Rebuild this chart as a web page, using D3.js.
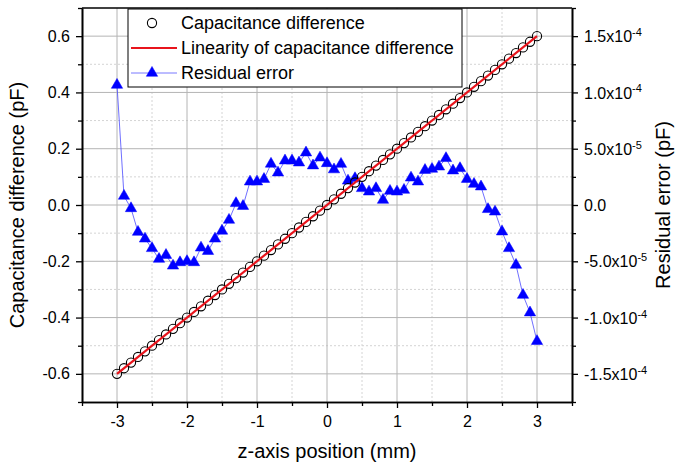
<!DOCTYPE html>
<html><head><meta charset="utf-8">
<script src="https://cdn.jsdelivr.net/npm/d3@7"></script>
<style>
body{margin:0;background:#fff}
svg text{font-family:"Liberation Sans",Arial,sans-serif;fill:#000}
</style>
</head><body>
<svg id="chart" width="683" height="468"></svg>
<script>
// ---------------- data ----------------
const positions = [-3.0,-2.9,-2.8,-2.7,-2.6,-2.5,-2.4,-2.3,-2.2,-2.1,-2.0,-1.9,-1.8,-1.7,-1.6,-1.5,-1.4,-1.3,-1.2,-1.1,
  -1.0,-0.9,-0.8,-0.7,-0.6,-0.5,-0.4,-0.3,-0.2,-0.1,0.0,0.1,0.2,0.3,0.4,0.5,0.6,0.7,0.8,0.9,
  1.0,1.1,1.2,1.3,1.4,1.5,1.6,1.7,1.8,1.9,2.0,2.1,2.2,2.3,2.4,2.5,2.6,2.7,2.8,2.9,3.0];
const capacitance = [-0.600,-0.580,-0.560,-0.540,-0.520,-0.500,-0.480,-0.460,-0.440,-0.420,-0.400,-0.380,-0.360,-0.340,-0.320,-0.300,-0.280,-0.260,-0.240,-0.220,
  -0.200,-0.180,-0.160,-0.140,-0.120,-0.100,-0.080,-0.060,-0.040,-0.020,0.000,0.020,0.040,0.060,0.080,0.100,0.120,0.140,0.160,0.180,
  0.200,0.220,0.240,0.260,0.280,0.300,0.320,0.340,0.360,0.380,0.400,0.420,0.440,0.460,0.480,0.500,0.520,0.540,0.560,0.580,0.600];
const residual = [10.66e-5,0.80e-5,-0.30e-5,-2.40e-5,-3.00e-5,-3.85e-5,-4.80e-5,-4.45e-5,-5.40e-5,-5.10e-5,
  -5.00e-5,-5.10e-5,-3.80e-5,-4.10e-5,-3.00e-5,-2.30e-5,-1.33e-5,0.15e-5,-0.10e-5,2.07e-5,
  2.07e-5,2.30e-5,3.65e-5,2.87e-5,3.94e-5,3.94e-5,3.76e-5,4.65e-5,3.50e-5,4.20e-5,
  3.70e-5,3.15e-5,3.64e-5,2.15e-5,2.37e-5,1.48e-5,1.18e-5,1.48e-5,0.44e-5,1.24e-5,
  1.18e-5,1.33e-5,2.42e-5,2.07e-5,3.10e-5,3.20e-5,3.40e-5,4.15e-5,3.05e-5,3.26e-5,
  2.30e-5,1.86e-5,1.63e-5,-0.38e-5,-0.60e-5,-2.37e-5,-3.85e-5,-5.33e-5,-8.00e-5,-9.56e-5,-12.10e-5];
const fitSlope = 0.2;
const fitIntercept = 0.0;
const xTicks = [-3,-2,-1,0,1,2,3];
const xTickLabels = ["-3","-2","-1","0","1","2","3"];
const xMinorTicks = [-3.5,-2.5,-1.5,-0.5,0.5,1.5,2.5,3.5];
const leftTicks = [-0.6,-0.4,-0.2,0,0.2,0.4,0.6];
const leftTickLabels = ["-0.6","-0.4","-0.2","0.0","0.2","0.4","0.6"];
const leftMinorTicks = [-0.7,-0.5,-0.3,-0.1,0.1,0.3,0.5,0.7];
const rightTicks = [-1.5e-4,-1.0e-4,-5.0e-5,0,5.0e-5,1.0e-4,1.5e-4];
const rightTickMantissa = ["-1.5","-1.0","-5.0","0.0","5.0","1.0","1.5"];
const rightTickExponent = ["-4","-4","-5","","-5","-4","-4"];
const rightMinorTicks = [-1.75e-4,-1.25e-4,-7.5e-5,-2.5e-5,2.5e-5,7.5e-5,1.25e-4,1.75e-4];
const legendLabels = ["Capacitance difference","Linearity of capacitance difference","Residual error"];
const xTitle = "z-axis position (mm)";
const yLeftTitle = "Capacitance difference (pF)";
const yRightTitle = "Residual error (pF)";

// ---------------- layout ----------------
const L = 82, R = 572, T = 8, B = 402;
const svg = d3.select("#chart");
const x = d3.scaleLinear().domain([-3.5,3.5]).range([L,R]);
const yL = d3.scaleLinear().domain([-0.7,0.7]).range([B,T]);
const yR = d3.scaleLinear().domain([-1.75e-4,1.75e-4]).range([B,T]);

// grid
const grid = svg.append("g");
grid.selectAll(".gxm").data(xMinorTicks.filter(v=>v>-3.5&&v<3.5)).enter().append("line")
  .attr("x1",d=>x(d)).attr("x2",d=>x(d)).attr("y1",T).attr("y2",B)
  .attr("stroke","#d4d4d4").attr("stroke-width",1).attr("stroke-dasharray","2,2");
grid.selectAll(".gym").data(leftMinorTicks.filter(v=>v>-0.7&&v<0.7)).enter().append("line")
  .attr("y1",d=>yL(d)).attr("y2",d=>yL(d)).attr("x1",L).attr("x2",R)
  .attr("stroke","#d4d4d4").attr("stroke-width",1).attr("stroke-dasharray","2,2");
grid.selectAll(".gx").data(xTicks).enter().append("line")
  .attr("x1",d=>x(d)).attr("x2",d=>x(d)).attr("y1",T).attr("y2",B)
  .attr("stroke","#b4b4b4").attr("stroke-width",1);
grid.selectAll(".gy").data(leftTicks).enter().append("line")
  .attr("y1",d=>yL(d)).attr("y2",d=>yL(d)).attr("x1",L).attr("x2",R)
  .attr("stroke","#b4b4b4").attr("stroke-width",1);

// top border
svg.append("line").attr("x1",L).attr("x2",R).attr("y1",T).attr("y2",T)
  .attr("stroke","#000").attr("stroke-width",1.5);

// axes
function styleAxis(g){
  g.selectAll("path.domain").attr("stroke","#000").attr("stroke-width",1.6);
  g.selectAll(".tick line").attr("stroke","#000").attr("stroke-width",1.3);
}
const gxMinor = svg.append("g").attr("transform",`translate(0,${B})`)
  .call(d3.axisBottom(x).tickValues(xMinorTicks).tickSize(4).tickSizeOuter(0).tickFormat(""));
styleAxis(gxMinor);
const gx = svg.append("g").attr("transform",`translate(0,${B})`)
  .call(d3.axisBottom(x).tickValues(xTicks).tickSize(6).tickSizeOuter(0).tickPadding(8)
    .tickFormat((d,i)=>xTickLabels[i]));
styleAxis(gx);
gx.selectAll("text").attr("font-size",16);

const gyMinor = svg.append("g").attr("transform",`translate(${L},0)`)
  .call(d3.axisLeft(yL).tickValues(leftMinorTicks).tickSize(4).tickSizeOuter(0).tickFormat(""));
styleAxis(gyMinor);
const gy = svg.append("g").attr("transform",`translate(${L},0)`)
  .call(d3.axisLeft(yL).tickValues(leftTicks).tickSize(6).tickSizeOuter(0).tickPadding(6)
    .tickFormat((d,i)=>leftTickLabels[i]));
styleAxis(gy);
gy.selectAll("text").attr("font-size",16);

const grMinor = svg.append("g").attr("transform",`translate(${R},0)`)
  .call(d3.axisRight(yR).tickValues(rightMinorTicks).tickSize(4).tickSizeOuter(0).tickFormat(""));
styleAxis(grMinor);
const gr = svg.append("g").attr("transform",`translate(${R},0)`)
  .call(d3.axisRight(yR).tickValues(rightTicks).tickSize(6).tickSizeOuter(0).tickPadding(6).tickFormat(""));
styleAxis(gr);
gr.selectAll(".tick").each(function(d,i){
  const t = d3.select(this).append("text").attr("x",12).attr("dy","0.35em")
    .attr("font-size",16).attr("text-anchor","start");
  t.append("tspan").text(rightTickMantissa[i] + (rightTickExponent[i] ? "x10" : ""));
  if (rightTickExponent[i]) t.append("tspan").attr("dy","-0.55em").attr("font-size",11).text(rightTickExponent[i]);
});

// axis titles
svg.append("text").attr("x",(L+R)/2).attr("y",458).attr("text-anchor","middle")
  .attr("font-size",20).text(xTitle);
svg.append("text").attr("transform",`translate(24,${(T+B)/2}) rotate(-90)`).attr("text-anchor","middle")
  .attr("font-size",20).text(yLeftTitle);
svg.append("text").attr("transform",`translate(670,${(T+B)/2}) rotate(-90)`).attr("text-anchor","middle")
  .attr("font-size",20).text(yRightTitle);

// data layers
const plot = svg.append("g");
plot.append("path").datum(positions.map((p,i)=>[p,residual[i]]))
  .attr("fill","none").attr("stroke","#4a4aff").attr("stroke-width",0.8)
  .attr("d", d3.line().x(d=>x(d[0])).y(d=>yR(d[1])));
const tri = d3.symbol().type(d3.symbolTriangle).size(56);
plot.selectAll(".tri").data(positions).enter().append("path")
  .attr("transform",(d,i)=>`translate(${x(d)},${yR(residual[i])})`)
  .attr("d",tri).attr("fill","#0000ff").attr("stroke","#0000ff").attr("stroke-width",0.5);
plot.selectAll(".cap").data(positions).enter().append("circle")
  .attr("cx",d=>x(d)).attr("cy",(d,i)=>yL(capacitance[i])).attr("r",4.6)
  .attr("fill","none").attr("stroke","#000").attr("stroke-width",1.1);
const xExt = d3.extent(positions);
plot.append("line")
  .attr("x1",x(xExt[0])).attr("y1",yL(fitSlope*xExt[0]+fitIntercept))
  .attr("x2",x(xExt[1])).attr("y2",yL(fitSlope*xExt[1]+fitIntercept))
  .attr("stroke","#e8141c").attr("stroke-width",2.2);

// legend
const lg = svg.append("g");
lg.append("rect").attr("x",128).attr("y",9).attr("width",334).attr("height",78)
  .attr("fill","#fff").attr("stroke","#000").attr("stroke-width",1);
const rows = [23,48,73];
lg.append("circle").attr("cx",152).attr("cy",rows[0]).attr("r",4.6)
  .attr("fill","none").attr("stroke","#000").attr("stroke-width",1.1);
lg.append("line").attr("x1",131).attr("x2",177).attr("y1",rows[1]).attr("y2",rows[1])
  .attr("stroke","#e8141c").attr("stroke-width",2.2);
lg.append("line").attr("x1",131).attr("x2",177).attr("y1",rows[2]).attr("y2",rows[2])
  .attr("stroke","#6a6aff").attr("stroke-width",0.9);
lg.append("path").attr("transform",`translate(152,${rows[2]})`).attr("d",tri)
  .attr("fill","#0000ff").attr("stroke","#0000ff").attr("stroke-width",0.5);
lg.selectAll(".lt").data(legendLabels).enter().append("text")
  .attr("x",181).attr("y",(d,i)=>rows[i]).attr("dy","0.35em").attr("font-size",18).text(d=>d);
</script>
</body></html>
